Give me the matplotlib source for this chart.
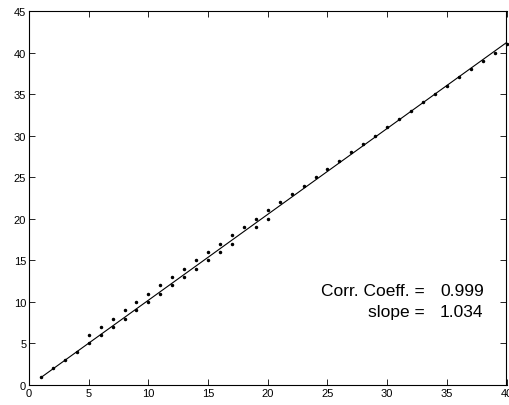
"""Scatter with linear fit, MATLAB-style box."""
import matplotlib
matplotlib.use("Agg")
import matplotlib.pyplot as plt

plt.rcParams["font.family"] = ["Liberation Sans", "DejaVu Sans"]

# measured points (x, y)
x_vals = [1, 2, 3, 4, 5, 5, 6, 6, 7, 7, 8, 8, 9, 9, 10, 10, 11, 11, 12, 12,
          13, 13, 14, 14, 15, 15, 16, 16, 17, 17, 18, 19, 19, 20, 20,
          21, 22, 23, 24, 25, 26, 27, 28, 29, 30, 31, 32, 33, 34, 35, 36,
          37, 38, 39, 40]
y_vals = [1, 2, 3, 4, 5, 6, 6, 7, 7, 8, 8, 9, 9, 10, 10, 11, 11, 12, 12, 13,
          13, 14, 14, 15, 15, 16, 16, 17, 17, 18, 19, 19, 20, 20, 21,
          22, 23, 24, 25, 26, 27, 28, 29, 30, 31, 32, 33, 34, 35, 36, 37,
          38, 39, 40, 41]

# fit line endpoints (from the figure)
fit_x = [1, 40]
fit_y = [0.9, 41.2]

stat_labels = ["Corr. Coeff. =", "slope ="]
stat_values = ["0.999", "1.034"]

W, H = 510, 406
fig = plt.figure(figsize=(W / 100, H / 100), dpi=100)
ax = fig.add_axes([29 / W, (H - 386) / H, (506.5 - 29) / W, (386 - 12) / H])

ax.plot(x_vals, y_vals, "k.", markersize=3, clip_on=False)
ax.plot(fit_x, fit_y, "k-", linewidth=0.8)

ax.set_xlim(0, 40)
ax.set_ylim(0, 45)
ax.set_xticks(range(0, 41, 5))
ax.set_yticks(range(0, 46, 5))
ax.tick_params(direction="in", top=True, right=True, length=4, width=0.6,
               labelsize=8, pad=2)
for s in ax.spines.values():
    s.set_linewidth(0.8)

for i, (lab, val) in enumerate(zip(stat_labels, stat_values)):
    ypix = 292 + 21 * i
    fig.text(425 / W, 1 - ypix / H, lab, ha="right", va="center", fontsize=12.5)
    fig.text(440 / W, 1 - ypix / H, val, ha="left", va="center", fontsize=12.5)

fig.savefig("out.png", dpi=100)
